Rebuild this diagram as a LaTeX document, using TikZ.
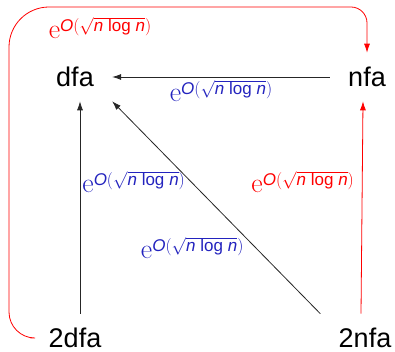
\documentclass[tikz,border=0pt]{standalone}
\usepackage{fontspec}
\setsansfont{Liberation Sans}
\usetikzlibrary{arrows.meta}

% size bound used on every edge
\newcommand{\bnd}{{\fontsize{28}{30}\selectfont e}\raisebox{7pt}{\fontsize{17}{19}\selectfont
    $\textsf{\itshape O}(\sqrt{\textsf{\itshape n}\;\textsf{log}\;\textsf{\itshape n}})$}}

\definecolor{bndblue}{RGB}{35,35,190}

\begin{document}
\begin{tikzpicture}[
    x=1pt, y=-1pt,
    >={Latex[length=9pt,width=6pt]},
    line width=0.8pt,
    auto node/.style={
        font=\sffamily\fontsize{27}{30}\selectfont,
        inner xsep=18pt,
        inner ysep=14pt
    },
    bound/.style={
        inner sep=0pt
    },
    conv/.style={->, draw=black!85},
    redconv/.style={->, draw=red}
]
\useasboundingbox (0,0) rectangle (395,352);

% Automata
\node[auto node] (dfa)  at (75,77)  {dfa};
\node[auto node] (nfa)  at (367,77) {nfa};
\node[auto node] (dfa2) at (75,338) {2dfa};
\node[auto node] (nfa2) at (365,338) {2nfa};

% Conversions
\draw[conv] (nfa.west) -- (dfa.east)
    node[bound, midway, below=3pt, text=bndblue] (lnd) {\bnd};

\draw[conv] ([xshift=5pt]dfa2.north) -- ([xshift=5pt]dfa.south)
    node[bound, pos=0.62, anchor=west, xshift=2pt, text=bndblue] (ldd) {\bnd};

\draw[conv] (nfa2.north west) -- (dfa.south east)
    node[bound, pos=0.31, anchor=east, xshift=-12pt, text=bndblue] (lnn) {\bnd};

\draw[redconv] ([xshift=-4pt]nfa2.north) -- ([xshift=-4pt]nfa.south)
    node[bound, pos=0.62, anchor=east, xshift=-8pt, text=red] (lrn) {\bnd};

% 2dfa to nfa, round the outside
\draw[redconv, rounded corners=26pt] (dfa2.west) -- (9,338)
    [rounded corners=40pt] -- (9,7)
    [rounded corners=16pt] -- (367,7) -- (nfa.north);
\node[bound, text=red] (ltop) at (100,28) {\bnd};

\end{tikzpicture}
\end{document}
